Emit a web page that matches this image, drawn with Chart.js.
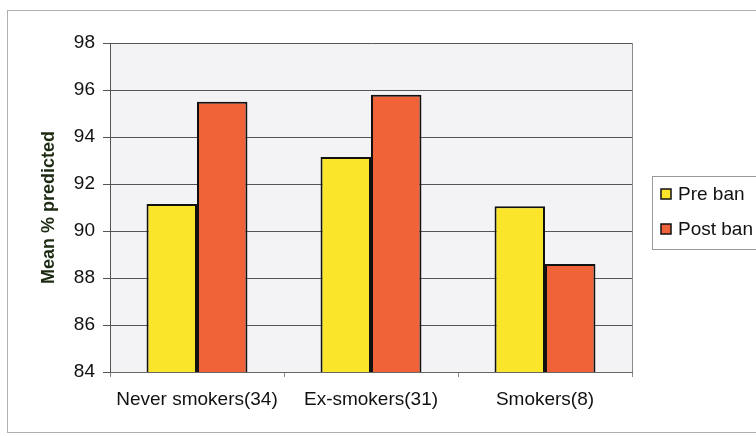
<!DOCTYPE html>
<html>
<head>
<meta charset="utf-8">
<script src="https://cdn.jsdelivr.net/npm/chart.js@4.4.0/dist/chart.umd.min.js"></script>
<style>
  html, body { margin: 0; padding: 0; background: #fff; }
  #wrap { width: 756px; height: 436px; position: relative; }
</style>
</head>
<body>
<div id="wrap"><canvas id="lungChart" width="756" height="436"></canvas></div>
<script>
const groups = ['Never smokers(34)', 'Ex-smokers(31)', 'Smokers(8)'];
const preBan = [91.15, 93.15, 91.05];
const postBan = [95.5, 95.8, 88.6];
const seriesNames = ['Pre ban', 'Post ban'];
const seriesColors = ['#fbe52a', '#f06238'];

const FONT = 'Arial, "Liberation Sans", sans-serif';

// light grey plot background plus the box around it
const plotBox = {
    id: 'plotBox',
    beforeDraw(chart) {
        const { ctx, chartArea: a } = chart;
        ctx.save();
        ctx.fillStyle = '#f3f3f6';
        ctx.fillRect(a.left, a.top, a.right - a.left, a.bottom - a.top);
        ctx.restore();
    },
    afterDraw(chart) {
        const { ctx, chartArea: a } = chart;
        ctx.save();
        ctx.strokeStyle = '#8a8a8a';
        ctx.lineWidth = 1;
        ctx.beginPath();
        ctx.moveTo(a.right + 0.5, a.top);
        ctx.lineTo(a.right + 0.5, a.bottom);
        ctx.stroke();
        // outer frame
        ctx.strokeStyle = '#b0b0b0';
        ctx.strokeRect(7.5, 10.5, 760, 422);
        ctx.restore();
    }
};

// boxed legend on the right
const sideLegend = {
    id: 'sideLegend',
    afterDraw(chart) {
        const { ctx } = chart;
        ctx.save();
        ctx.strokeStyle = '#9a9a9a';
        ctx.lineWidth = 1;
        ctx.fillStyle = '#ffffff';
        ctx.fillRect(652.5, 176.5, 120, 73);
        ctx.strokeRect(652.5, 176.5, 120, 73);
        ctx.font = '19px ' + FONT;
        ctx.textBaseline = 'middle';
        chart.data.datasets.forEach((ds, i) => {
            const y = 194 + i * 35;
            ctx.fillStyle = ds.backgroundColor;
            ctx.fillRect(661, y - 5, 10, 10);
            ctx.strokeStyle = '#111';
            ctx.lineWidth = 1.5;
            ctx.strokeRect(661, y - 5, 10, 10);
            ctx.fillStyle = '#111';
            ctx.fillText(ds.label, 678, y + 1);
        });
        ctx.restore();
    }
};

new Chart(document.getElementById('lungChart'), {
    type: 'bar',
    data: {
        labels: groups,
        datasets: [
            { label: seriesNames[0], data: preBan, backgroundColor: seriesColors[0] },
            { label: seriesNames[1], data: postBan, backgroundColor: seriesColors[1] }
        ].map(ds => Object.assign(ds, {
            borderColor: '#111',
            borderWidth: 2,
            borderSkipped: false,
            categoryPercentage: 0.58,
            barPercentage: 1.0
        }))
    },
    options: {
        responsive: false,
        animation: false,
        layout: { padding: { top: 43, right: 124, bottom: 0, left: 0 } },
        plugins: {
            legend: { display: false },
            tooltip: { enabled: false }
        },
        scales: {
            x: {
                grid: {
                    offset: true,
                    drawOnChartArea: false,
                    drawTicks: true,
                    tickLength: 5,
                    color: '#888'
                },
                border: { color: '#666', width: 1 },
                ticks: {
                    color: '#111',
                    padding: 11,
                    font: { family: FONT, size: 19 }
                },
                afterFit(scale) { scale.height = 64; }
            },
            y: {
                min: 84,
                max: 98,
                ticks: {
                    stepSize: 2,
                    color: '#111',
                    padding: 8,
                    font: { family: FONT, size: 19 }
                },
                grid: { color: '#555', lineWidth: 1, tickLength: 7 },
                border: { color: '#555', width: 1 },
                title: {
                    display: true,
                    text: 'Mean % predicted',
                    color: '#1c2a12',
                    padding: { top: 38, bottom: 4 },
                    font: { family: FONT, size: 18, weight: 'bold' }
                },
                afterFit(scale) { scale.width = 110; }
            }
        }
    },
    plugins: [plotBox, sideLegend]
});
</script>
</body>
</html>
